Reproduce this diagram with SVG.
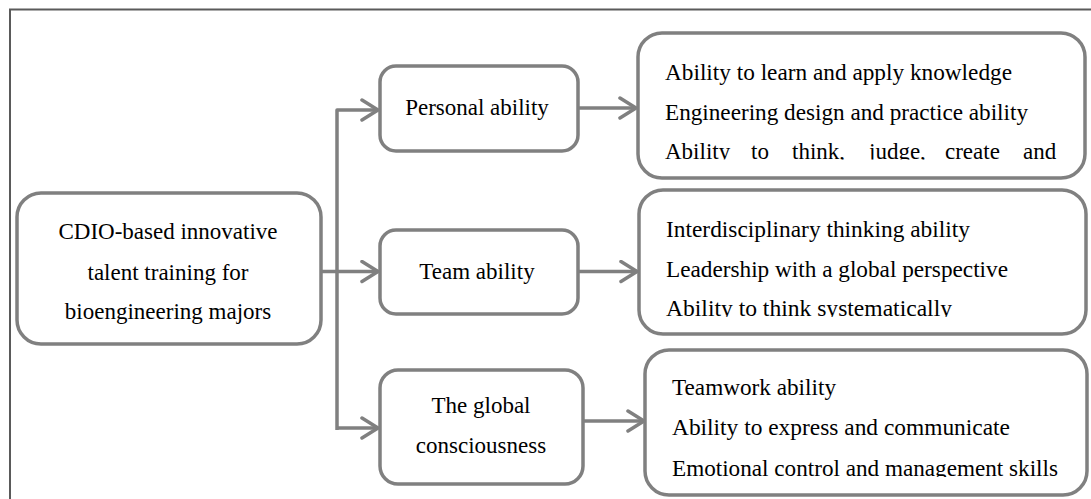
<svg xmlns="http://www.w3.org/2000/svg" width="1091" height="499" viewBox="0 0 1091 499">
  <style>
    .box { fill: #ffffff; stroke: #808080; stroke-width: 3.5; }
    .wire { fill: none; stroke: #808080; stroke-width: 3.5; stroke-linejoin: round; }
    text { font-family: 'Liberation Serif', 'Times New Roman', 'DejaVu Serif', serif; font-size: 23px; fill: #000000; }
    .mid { text-anchor: middle; }
    .frame { stroke: #5a5a5a; stroke-width: 2; fill: none; }
  </style>
  <defs>
    <marker id="open-arrow" viewBox="0 0 20 24" refX="18" refY="12" markerWidth="20" markerHeight="24" markerUnits="userSpaceOnUse" orient="auto">
      <path d="M2 2 L18 12 L2 22" fill="none" stroke="#808080" stroke-width="3.5" stroke-linejoin="round" stroke-linecap="round"/>
    </marker>
    <clipPath id="clip-list1"><rect x="640" y="35" width="440" height="124.5"/></clipPath>
    <clipPath id="clip-list2"><rect x="640" y="192" width="440" height="125"/></clipPath>
    <clipPath id="clip-list3"><rect x="647" y="352" width="438" height="125"/></clipPath>
  </defs>

  <!-- page frame -->
  <path class="frame" d="M10 499 V9.5 H1091"/>

  <!-- connectors -->
  <g id="connectors">
    <path class="wire" d="M337 430 V110 H378" marker-end="url(#open-arrow)"/>
    <path class="wire" d="M337 428 H378" marker-end="url(#open-arrow)"/>
    <path class="wire" d="M321 271.5 H378" marker-end="url(#open-arrow)"/>
    <path class="wire" d="M578 108 H636" marker-end="url(#open-arrow)"/>
    <path class="wire" d="M578 271.5 H637" marker-end="url(#open-arrow)"/>
    <path class="wire" d="M583 421 H644" marker-end="url(#open-arrow)"/>
  </g>

  <g font-family="Liberation Serif, serif" font-size="23">
  <!-- root -->
  <g id="node-root">
    <rect class="box" x="17" y="193" width="304" height="151" rx="24"/>
    <text class="mid" x="168" y="239">CDIO-based innovative</text>
    <text class="mid" x="168" y="280">talent training for</text>
    <text class="mid" x="168" y="319">bioengineering majors</text>
  </g>

  <!-- middle column -->
  <g id="node-personal">
    <rect class="box" x="380" y="66" width="198" height="85" rx="16"/>
    <text class="mid" x="477" y="115">Personal ability</text>
  </g>
  <g id="node-team">
    <rect class="box" x="380" y="230" width="198" height="84" rx="16"/>
    <text class="mid" x="477" y="279">Team ability</text>
  </g>
  <g id="node-global">
    <rect class="box" x="380" y="370" width="203" height="114" rx="18"/>
    <text class="mid" x="481" y="413">The global</text>
    <text class="mid" x="481" y="453">consciousness</text>
  </g>

  <!-- right column -->
  <g id="node-personal-items">
    <rect class="box" x="638" y="33" width="447" height="145" rx="24"/>
    <g clip-path="url(#clip-list1)">
      <text x="665" y="80" textLength="347" lengthAdjust="spacingAndGlyphs">Ability to learn and apply knowledge</text>
      <text x="665" y="120" textLength="363" lengthAdjust="spacingAndGlyphs">Engineering design and practice ability</text>
      <text y="159"><tspan x="665">Ability</tspan><tspan x="751">to</tspan><tspan x="792">think,</tspan><tspan x="869">judge,</tspan><tspan x="945">create</tspan><tspan x="1023">and</tspan></text>
    </g>
  </g>
  <g id="node-team-items">
    <rect class="box" x="639" y="190" width="447" height="144" rx="24"/>
    <g clip-path="url(#clip-list2)">
      <text x="666" y="237" textLength="304" lengthAdjust="spacingAndGlyphs">Interdisciplinary thinking ability</text>
      <text x="666" y="277" textLength="342" lengthAdjust="spacingAndGlyphs">Leadership with a global perspective</text>
      <text x="666" y="316" textLength="286" lengthAdjust="spacingAndGlyphs">Ability to think systematically</text>
    </g>
  </g>
  <g id="node-global-items">
    <rect class="box" x="645" y="350" width="442" height="145" rx="24"/>
    <g clip-path="url(#clip-list3)">
      <text x="672" y="395" textLength="164" lengthAdjust="spacingAndGlyphs">Teamwork ability</text>
      <text x="672" y="435" textLength="338" lengthAdjust="spacingAndGlyphs">Ability to express and communicate</text>
      <text x="672" y="476" textLength="386" lengthAdjust="spacingAndGlyphs">Emotional control and management skills</text>
    </g>
  </g>
  </g>
</svg>
